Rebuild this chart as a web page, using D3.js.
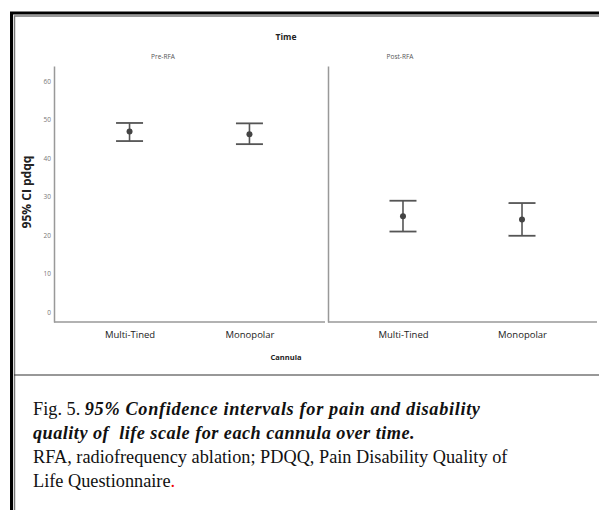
<!DOCTYPE html>
<html lang="en">
<head>
<meta charset="UTF-8">
<title>PDQQ confidence intervals</title>
<script src="https://d3js.org/d3.v7.min.js"></script>
<style>
  body { margin: 0; background: #fff; }
  svg { display: block; }
  .cap text { white-space: pre; }
</style>
</head>
<body>
<div id="chart"></div>
<script>
const width = 599
const height = 510

// data
const times = ["Pre-RFA", "Post-RFA"]
const cannulas = ["Multi-Tined", "Monopolar"]
const preMean = [46.9, 46.2]
const preLower = [44.4, 43.6]
const preUpper = [49.1, 49.0]
const postMean = [24.9, 24.0]
const postLower = [20.9, 19.8]
const postUpper = [28.9, 28.3]
const yTicks = [0, 10, 20, 30, 40, 50, 60]

const rows = []
times.forEach((t, ti) => {
    cannulas.forEach((c, ci) => {
        const m = ti === 0 ? preMean : postMean
        const lo = ti === 0 ? preLower : postLower
        const hi = ti === 0 ? preUpper : postUpper
        rows.push({time: t, cannula: c, mean: m[ci], lower: lo[ci], upper: hi[ci]})
    })
})

const svg = d3.select("#chart").append("svg")
    .attr("width", width)
    .attr("height", height)

const chartFont = "'Open Sans', 'Liberation Sans', sans-serif"

// panels
const panels = {
    "Pre-RFA": {x0: 54, x1: 325, label: 163},
    "Post-RFA": {x0: 328, x1: 597, label: 400}
}
const y = d3.scaleLinear().domain([-2.6, 63.9]).range([322, 66])

// title
svg.append("text")
    .attr("x", 286).attr("y", 40)
    .attr("text-anchor", "middle")
    .attr("font-family", chartFont)
    .attr("font-weight", "bold")
    .attr("font-size", 8.5)
    .attr("fill", "#222")
    .text("Time")

svg.append("text")
    .attr("x", 286).attr("y", 360)
    .attr("text-anchor", "middle")
    .attr("font-family", chartFont)
    .attr("font-weight", "bold")
    .attr("font-size", 7.5)
    .attr("fill", "#222")
    .text("Cannula")

svg.append("text")
    .attr("transform", "translate(31,192) rotate(-90)")
    .attr("text-anchor", "middle")
    .attr("font-family", chartFont)
    .attr("font-weight", "bold")
    .attr("font-size", 12)
    .attr("fill", "#222")
    .text("95% CI pdqq")

times.forEach(t => {
    const p = panels[t]
    const g = svg.append("g")
    const x = d3.scalePoint().domain(cannulas).range([p.x0, p.x1]).padding(0.63)

    g.append("text")
        .attr("x", p.label).attr("y", 59)
        .attr("text-anchor", "middle")
        .attr("font-family", chartFont)
        .attr("font-size", 6.5)
        .attr("fill", "#555")
        .text(t)

    // axes
    const xAxis = d3.axisBottom(x).tickSize(0).tickPadding(9)
    const xg = g.append("g").attr("transform", `translate(0,${y.range()[0]})`).call(xAxis)
    xg.select(".domain").attr("stroke", "#999").attr("stroke-width", 1.5)
        .attr("d", `M${p.x0},0H${p.x1}`)
    xg.selectAll("text")
        .attr("font-family", chartFont).attr("font-size", 9.5).attr("fill", "#222")

    const yAxis = d3.axisLeft(y).tickValues(yTicks).tickSize(0).tickPadding(3)
    const yg = g.append("g").attr("transform", `translate(${p.x0},0)`).call(yAxis)
    yg.select(".domain").attr("stroke", "#999").attr("stroke-width", 1.5)
    if (t === "Pre-RFA") {
        yg.selectAll("text")
            .attr("font-family", chartFont).attr("font-size", 6.5).attr("fill", "#777")
    } else {
        yg.selectAll(".tick").remove()
    }

    // error bars
    const bars = g.selectAll("g.bar").data(rows.filter(d => d.time === t))
        .enter().append("g").attr("class", "bar")
    bars.append("line")
        .attr("x1", d => x(d.cannula)).attr("x2", d => x(d.cannula))
        .attr("y1", d => y(d.upper)).attr("y2", d => y(d.lower))
        .attr("stroke", "#555").attr("stroke-width", 1.6)
    bars.selectAll("line.cap").data(d => [d.upper, d.lower].map(v => ({c: d.cannula, v: v})))
        .enter().append("line").attr("class", "cap")
        .attr("x1", d => x(d.c) - 13.5).attr("x2", d => x(d.c) + 13.5)
        .attr("y1", d => y(d.v)).attr("y2", d => y(d.v))
        .attr("stroke", "#555").attr("stroke-width", 1.8)
    bars.append("circle")
        .attr("cx", d => x(d.cannula)).attr("cy", d => y(d.mean))
        .attr("r", 3)
        .attr("fill", "#444")
})

// frame
svg.append("path").attr("d", `M11.5,${height}V13H${width}`)
    .attr("fill", "none").attr("stroke", "#000").attr("stroke-width", 3)
svg.append("path").attr("d", `M14.5,${height}V16H${width}`)
    .attr("fill", "none").attr("stroke", "#777").attr("stroke-width", 1.5)
svg.append("line").attr("x1", 14).attr("x2", width).attr("y1", 375).attr("y2", 375)
    .attr("stroke", "#333").attr("stroke-width", 1.2)

// caption
const capFont = "'Liberation Serif', 'DejaVu Serif', serif"
const cap = svg.append("g").attr("class", "cap")
    .attr("font-family", capFont).attr("font-size", 18.3).attr("fill", "#111")
const l1 = cap.append("text").attr("x", 33).attr("y", 415)
l1.append("tspan").text("Fig. 5. ")
l1.append("tspan").attr("font-style", "italic").attr("font-weight", "bold")
    .attr("letter-spacing", 0.65)
    .text("95% Confidence intervals for pain and disability")
cap.append("text").attr("x", 33).attr("y", 439)
    .attr("font-style", "italic").attr("font-weight", "bold")
    .attr("letter-spacing", 0.45)
    .text("quality of  life scale for each cannula over time.")
cap.append("text").attr("x", 33).attr("y", 463)
    .text("RFA, radiofrequency ablation; PDQQ, Pain Disability Quality of")
const l4 = cap.append("text").attr("x", 33).attr("y", 487)
l4.append("tspan").text("Life Questionnaire")
l4.append("tspan").attr("fill", "#e00").text(".")
</script>
</body>
</html>
